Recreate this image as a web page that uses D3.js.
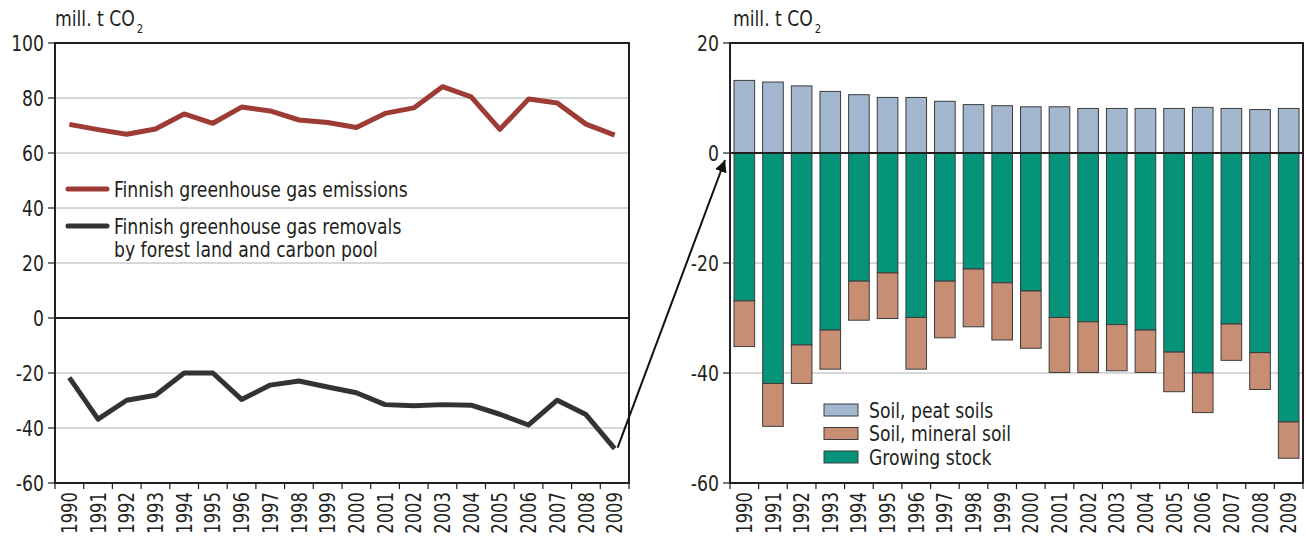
<!DOCTYPE html>
<html><head><meta charset="utf-8">
<script src="https://cdn.jsdelivr.net/npm/d3@7"></script>
<style>
html,body{margin:0;padding:0;background:#fff;}
svg text{font-family:"DejaVu Sans Condensed","Liberation Sans Narrow","Arial Narrow",sans-serif;font-stretch:condensed;fill:#231f20;}
</style></head>
<body>
<svg id="chart" width="1306" height="538"></svg>
<script>
const years = ["1990","1991","1992","1993","1994","1995","1996","1997","1998","1999","2000","2001","2002","2003","2004","2005","2006","2007","2008","2009"];
const emissions = [70.4, 68.5, 66.8, 68.7, 74.2, 70.8, 76.7, 75.3, 72.0, 71.1, 69.3, 74.4, 76.4, 84.1, 80.4, 68.6, 79.6, 78.2, 70.5, 66.5];
const removals = [-21.7, -36.8, -29.9, -28.1, -20.0, -20.0, -29.6, -24.4, -22.9, -25.1, -27.2, -31.5, -31.9, -31.5, -31.7, -35.0, -38.9, -29.9, -35.1, -47.5];
const peatSoils = [13.2, 12.9, 12.2, 11.2, 10.6, 10.1, 10.1, 9.4, 8.8, 8.6, 8.4, 8.4, 8.1, 8.1, 8.1, 8.1, 8.3, 8.1, 7.9, 8.1];
const growingStock = [-26.9, -41.9, -34.9, -32.2, -23.3, -21.8, -29.9, -23.3, -21.1, -23.6, -25.1, -29.9, -30.7, -31.2, -32.2, -36.2, -40.0, -31.1, -36.3, -48.9];
const mineralSoil = [-8.3, -7.8, -7.0, -7.1, -7.1, -8.3, -9.4, -10.3, -10.5, -10.4, -10.4, -10.0, -9.2, -8.4, -7.7, -7.2, -7.2, -6.6, -6.7, -6.6];
const leftTicks = [100, 80, 60, 40, 20, 0, -20, -40, -60];
const rightTicks = [20, 0, -20, -40, -60];
const lineLegend = [["Finnish greenhouse gas emissions"], ["Finnish greenhouse gas removals", "by forest land and carbon pool"]];
const barLegend = ["Soil, peat soils", "Soil, mineral soil", "Growing stock"];

const C = {red:"#9d3b34", black:"#333333", peat:"#a3b7cf", mineral:"#c78e74", growing:"#05937a", grid:"#b0b0b0", frame:"#231f20"};
const SQ = 0.87; // horizontal squeeze to imitate the condensed typeface

const svg = d3.select("#chart");

function squeeze(node) {
  const len = node.getComputedTextLength();
  node.setAttribute("textLength", (len * SQ).toFixed(2));
  node.setAttribute("lengthAdjust", "spacingAndGlyphs");
  return len * SQ;
}

function axisTitle(x, y) {
  const t = svg.append("text").attr("x", x).attr("y", y).attr("font-size", 22);
  const a = t.append("tspan").text("mill. t CO");
  const b = t.append("tspan").attr("font-size", 13).attr("dx", 2).attr("dy", 7).text("2");
  squeeze(a.node());
  squeeze(b.node());
}

function panel(x0, x1, yTop, yBot, domain, ticks) {
  const x = d3.scaleBand().domain(years).range([x0, x1]);
  const y = d3.scaleLinear().domain(domain).range([yBot, yTop]);
  const g = svg.append("g");
  g.selectAll(".grid").data(ticks.filter(t => t !== domain[0] && t !== domain[1] && t !== 0))
    .join("line").attr("x1", x0).attr("x2", x1).attr("y1", d => y(d)).attr("y2", d => y(d))
    .attr("stroke", C.grid).attr("stroke-width", 1);
  g.selectAll(".yt").data(ticks).join("line")
    .attr("x1", x0 - 7).attr("x2", x0).attr("y1", d => y(d)).attr("y2", d => y(d))
    .attr("stroke", C.frame).attr("stroke-width", 1.2);
  g.selectAll(".yl").data(ticks).join("text")
    .attr("x", x0 - 11).attr("y", d => y(d)).attr("dy", "0.36em")
    .attr("text-anchor", "end").attr("font-size", 22).text(d => d)
    .each(function(){ squeeze(this); });
  const bounds = years.map(d => x(d)).concat([x1]);
  g.selectAll(".xt").data(bounds).join("line")
    .attr("x1", d => d).attr("x2", d => d).attr("y1", yBot).attr("y2", yBot + 6)
    .attr("stroke", C.frame).attr("stroke-width", 1.2);
  g.selectAll(".xl").data(years).join("text")
    .attr("transform", d => `translate(${x(d) + x.bandwidth()/2},${yBot + 9}) rotate(-90)`)
    .attr("text-anchor", "end").attr("dy", "0.36em").attr("font-size", 21).text(d => d)
    .each(function(){ squeeze(this); });
  return {x, y, g};
}

function frame(p, x0, x1, yTop, yBot) {
  p.g.append("rect").attr("x", x0).attr("y", yTop).attr("width", x1 - x0).attr("height", yBot - yTop)
    .attr("fill", "none").attr("stroke", C.frame).attr("stroke-width", 2);
  p.g.append("line").attr("x1", x0).attr("x2", x1).attr("y1", p.y(0)).attr("y2", p.y(0))
    .attr("stroke", C.frame).attr("stroke-width", 2);
}

// ---------- Left panel ----------
const L = {x0: 55, x1: 629, yTop: 43, yBot: 483};
const pL = panel(L.x0, L.x1, L.yTop, L.yBot, [-60, 100], leftTicks);
frame(pL, L.x0, L.x1, L.yTop, L.yBot);
const cx = d => pL.x(d) + pL.x.bandwidth()/2;
const line = d3.line().x((d, i) => cx(years[i])).y(d => pL.y(d));
pL.g.append("path").datum(emissions).attr("d", line).attr("fill", "none")
  .attr("stroke", C.red).attr("stroke-width", 5).attr("stroke-linejoin", "round");
pL.g.append("path").datum(removals).attr("d", line).attr("fill", "none")
  .attr("stroke", C.black).attr("stroke-width", 5).attr("stroke-linejoin", "round");
axisTitle(55, 26);

const lleg = svg.append("g");
const legColors = [C.red, C.black];
const legY = [189, 226];
lineLegend.forEach((lines, i) => {
  lleg.append("line").attr("x1", 68).attr("x2", 107).attr("y1", legY[i]).attr("y2", legY[i])
    .attr("stroke", legColors[i]).attr("stroke-width", 5).attr("stroke-linecap", "round");
  lines.forEach((t, j) => {
    const tx = lleg.append("text").attr("x", 114).attr("y", legY[i] + j * 23).attr("dy", "0.36em")
      .attr("font-size", 22).text(t);
    squeeze(tx.node());
  });
});

// ---------- Right panel ----------
const R = {x0: 730, x1: 1303, yTop: 43, yBot: 483};
const pR = panel(R.x0, R.x1, R.yTop, R.yBot, [-60, 20], rightTicks);
const bw = pR.x.bandwidth() * 0.72;
const bx = d => pR.x(d) + (pR.x.bandwidth() - bw) / 2;
const bars = pR.g.append("g");
function barSet(lo, hi, color) {
  bars.selectAll(null).data(years).join("rect")
    .attr("x", d => bx(d)).attr("width", bw)
    .attr("y", (d, i) => pR.y(Math.max(lo[i], hi[i])))
    .attr("height", (d, i) => Math.abs(pR.y(lo[i]) - pR.y(hi[i])))
    .attr("fill", color).attr("stroke", "#3c3c3c").attr("stroke-width", 1);
}
const zeros = years.map(() => 0);
barSet(zeros, peatSoils, C.peat);
barSet(zeros, growingStock, C.growing);
barSet(growingStock, growingStock.map((g, i) => g + mineralSoil[i]), C.mineral);
frame(pR, R.x0, R.x1, R.yTop, R.yBot);
axisTitle(733, 26);

const bleg = svg.append("g");
const bcols = [C.peat, C.mineral, C.growing];
barLegend.forEach((t, i) => {
  const yy = 410 + i * 23.5;
  bleg.append("rect").attr("x", 824).attr("y", yy - 6).attr("width", 34).attr("height", 12)
    .attr("fill", bcols[i]).attr("stroke", "#3c3c3c").attr("stroke-width", 1);
  const tx = bleg.append("text").attr("x", 869).attr("y", yy).attr("dy", "0.36em").attr("font-size", 22).text(t);
  squeeze(tx.node());
});

// ---------- Arrow ----------
svg.append("defs").append("marker").attr("id", "ah").attr("viewBox", "0 0 10 10")
  .attr("refX", 10).attr("refY", 5).attr("markerWidth", 6).attr("markerHeight", 6)
  .attr("markerUnits", "strokeWidth").attr("orient", "auto")
  .append("path").attr("d", "M0,0 L10,5 L0,10 Z").attr("fill", "#111");
const last = years[years.length - 1];
svg.append("line")
  .attr("x1", cx(last) + 3).attr("y1", pL.y(removals[removals.length - 1]) - 1)
  .attr("x2", R.x0 - 5).attr("y2", pR.y(0) + 7)
  .attr("stroke", "#111").attr("stroke-width", 2).attr("marker-end", "url(#ah)");
</script>
</body></html>
